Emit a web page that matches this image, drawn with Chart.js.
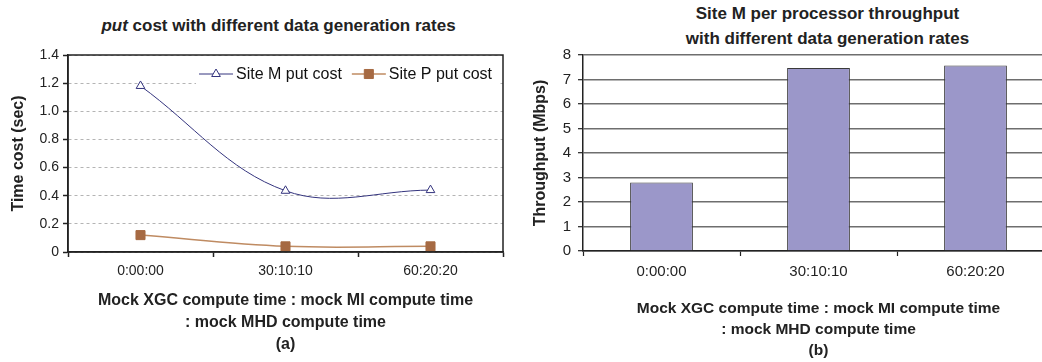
<!DOCTYPE html>
<html>
<head>
<meta charset="utf-8">
<script src="https://cdn.jsdelivr.net/npm/chart.js@4/dist/chart.umd.min.js"></script>
<style>
  body { margin: 0; width: 1042px; height: 362px; overflow: hidden; background: #fff; position: relative; }
  .ttl { position: absolute; text-align: center; font-family: 'Liberation Sans', Arial, sans-serif; font-weight: bold; font-size: 17px; color: #222; }
  canvas { position: absolute; top: 0; }
</style>
</head>
<body>
<div class="ttl" style="left:0; width:557px; top:16px; line-height:20px;"><i>put</i> cost with different data generation rates</div>
<div class="ttl" style="left:620px; width:415px; top:1px; line-height:25px;">Site M per processor throughput<br>with different data generation rates</div>
<div style="position:absolute; left:0; top:0; width:520px; height:362px;"><canvas id="costChart"></canvas></div>
<div style="position:absolute; left:520px; top:0; width:540px; height:362px;"><canvas id="tputChart"></canvas></div>
<script>
// data
const categories = ['0:00:00', '30:10:10', '60:20:20'];
const siteMPut = [1.18, 0.435, 0.44];
const sitePPut = [0.12, 0.04, 0.04];
const siteMThroughput = [2.8, 7.47, 7.57];

const FONT = "'Liberation Sans', Arial, sans-serif";
const xTitleLines = ['Mock XGC compute time : mock MI compute time', ': mock MHD compute time'];

// black box round the plot area (left chart)
const framePlugin = {
  id: 'frame',
  afterDraw(chart) {
    const a = chart.chartArea, ctx = chart.ctx;
    ctx.save();
    ctx.strokeStyle = '#222';
    ctx.lineWidth = 1.5;
    ctx.strokeRect(a.left, a.top, a.right - a.left, a.bottom - a.top);
    ctx.restore();
  }
};

// legend drawn inside the plot, top right, on a white box
const insideLegend = {
  id: 'insideLegend',
  afterDraw(chart) {
    const ctx = chart.ctx, a = chart.chartArea;
    const sets = chart.data.datasets;
    ctx.save();
    ctx.font = '16px ' + FONT;
    const lineLen = 34, gap = 3, itemGap = 10;
    const widths = sets.map(d => lineLen + gap + ctx.measureText(d.label).width);
    const total = widths.reduce((s, w) => s + w, 0) + itemGap * (sets.length - 1);
    let x = a.right - 11 - total;
    const y = a.top + 19;
    ctx.fillStyle = '#fff';
    ctx.fillRect(x - 3, a.top + 6, total + 9, 25);
    sets.forEach((d, i) => {
      ctx.strokeStyle = d.borderColor;
      ctx.lineWidth = d.borderWidth;
      ctx.beginPath();
      ctx.moveTo(x, y);
      ctx.lineTo(x + lineLen, y);
      ctx.stroke();
      ctx.fillStyle = d.pointBackgroundColor;
      ctx.strokeStyle = d.pointBorderColor;
      ctx.lineWidth = 1;
      Chart.helpers.drawPoint(ctx, { pointStyle: d.pointStyle, radius: d.pointRadius, borderWidth: 1, rotation: 0 }, x + lineLen / 2, y);
      ctx.fillStyle = '#111';
      ctx.textBaseline = 'middle';
      ctx.textAlign = 'left';
      ctx.fillText(d.label, x + lineLen + gap, y + 1);
      x += widths[i] + itemGap;
    });
    ctx.restore();
  }
};

// (a) put cost
new Chart(document.getElementById('costChart'), {
  type: 'line',
  data: {
    labels: categories,
    datasets: [{
      label: 'Site M put cost',
      data: siteMPut,
      borderColor: '#34347e',
      borderWidth: 1,
      tension: 0.37,
      pointStyle: 'triangle',
      pointRadius: 5,
      pointBackgroundColor: '#fff',
      pointBorderColor: '#34347e',
      pointBorderWidth: 1
    }, {
      label: 'Site P put cost',
      data: sitePPut,
      borderColor: '#bf8b62',
      borderWidth: 1.5,
      tension: 0.37,
      pointStyle: 'rect',
      pointRadius: 6.4,
      pointBackgroundColor: '#a66a43',
      pointBorderColor: '#a66a43',
      pointBorderWidth: 1
    }]
  },
  options: {
    responsive: true,
    maintainAspectRatio: false,
    animation: false,
    layout: { padding: { left: 0, right: 17, top: 55, bottom: 0 } },
    plugins: { legend: { display: false }, tooltip: { enabled: false } },
    scales: {
      x: {
        offset: true,
        afterFit: s => { s.height = 110; },
        grid: { offset: true, drawOnChartArea: false, drawTicks: true, tickLength: 5, tickColor: '#222', tickWidth: 1.5 },
        border: { display: true, color: '#222', width: 1.5 },
        ticks: { color: '#222', font: { family: FONT, size: 14 }, padding: 6 },
        title: {
          display: true,
          text: xTitleLines.concat(['(a)']),
          color: '#222',
          font: { family: FONT, size: 16, weight: 'bold', lineHeight: 22 / 16 },
          padding: { top: 0, bottom: 6 }
        }
      },
      y: {
        min: 0,
        max: 1.4,
        afterFit: s => { s.width = 68; },
        grid: { color: '#b4b4b4', lineWidth: 1, tickLength: 5, tickColor: '#222', tickWidth: 1.5 },
        border: { display: true, color: '#222', width: 1.5, dash: [3, 3] },
        ticks: { stepSize: 0.2, color: '#222', font: { family: FONT, size: 14 }, padding: 4 },
        title: {
          display: true,
          text: 'Time cost (sec)',
          color: '#222',
          font: { family: FONT, size: 16, weight: 'bold' },
          padding: { top: 9, bottom: 0 }
        }
      }
    }
  },
  plugins: [framePlugin, insideLegend]
});

// (b) throughput
new Chart(document.getElementById('tputChart'), {
  type: 'bar',
  data: {
    labels: categories,
    datasets: [{
      label: 'Site M per processor throughput',
      data: siteMThroughput,
      backgroundColor: '#9b97c9',
      borderColor: '#3a3a3a',
      borderWidth: 1,
      categoryPercentage: 1,
      barPercentage: 0.4
    }]
  },
  options: {
    responsive: true,
    maintainAspectRatio: false,
    animation: false,
    layout: { padding: { left: 0, right: 6, top: 55, bottom: 0 } },
    plugins: { legend: { display: false }, tooltip: { enabled: false } },
    scales: {
      x: {
        afterFit: s => { s.height = 111; },
        grid: { offset: true, drawOnChartArea: false, drawTicks: true, tickLength: 5, tickColor: '#222', tickWidth: 1.2 },
        border: { display: true, color: '#222', width: 1.5 },
        ticks: { color: '#222', font: { family: FONT, size: 15 }, padding: 7 },
        title: {
          display: true,
          text: xTitleLines.concat(['(b)']),
          color: '#222',
          font: { family: FONT, size: 15.5, weight: 'bold', lineHeight: 21 / 15.5 },
          padding: { top: 0, bottom: 1 }
        }
      },
      y: {
        min: 0,
        max: 8,
        afterFit: s => { s.width = 63; },
        grid: { color: '#6e6e6e', lineWidth: 1.4, tickLength: 5, tickColor: '#222', tickWidth: 1.2 },
        border: { display: true, color: '#222', width: 1.5 },
        ticks: { stepSize: 1, color: '#222', font: { family: FONT, size: 15 }, padding: 7 },
        title: {
          display: true,
          text: 'Throughput (Mbps)',
          color: '#222',
          font: { family: FONT, size: 16, weight: 'bold' },
          padding: { top: 11, bottom: 0 }
        }
      }
    }
  }
});
</script>
</body>
</html>
